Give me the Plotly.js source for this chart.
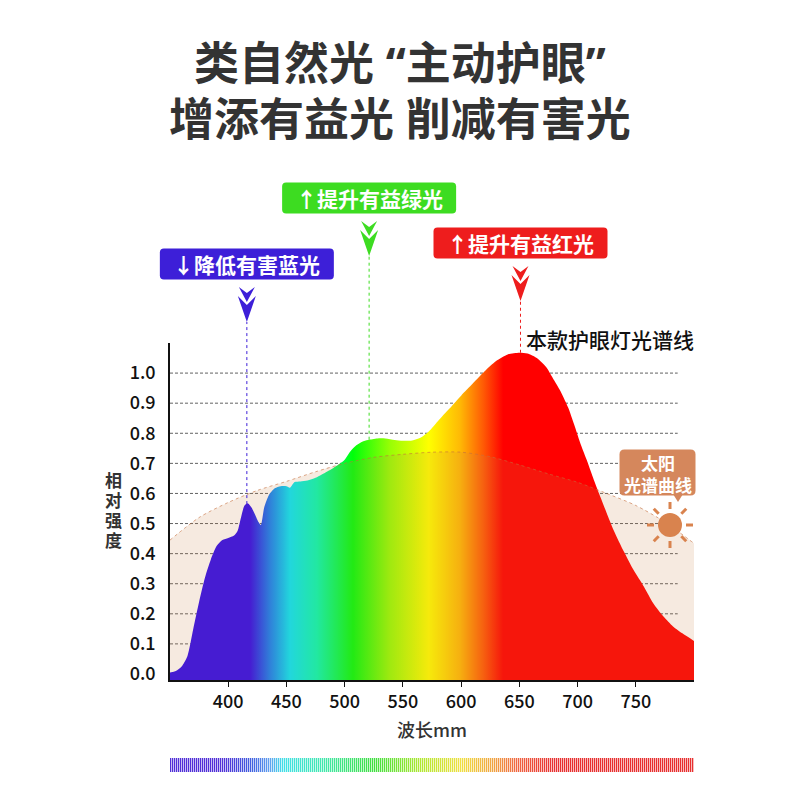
<!DOCTYPE html>
<html>
<head>
<meta charset="utf-8">
<script src="https://cdn.plot.ly/plotly-3.0.1.min.js"></script>
<style>
  html, body { margin: 0; padding: 0; background: #fff; }
  #chart { width: 800px; height: 800px; }
</style>
</head>
<body>
<div id="chart"></div>
<script>
// axes
const X_RANGE = [350, 800];
const Y_RANGE = [-0.02, 1.1];
const X_TICKS = [400, 450, 500, 550, 600, 650, 700, 750];
const Y_LABELS = [0, 0.1, 0.2, 0.3, 0.4, 0.5, 0.6, 0.7, 0.8, 0.9, 1.0];
const GRID_VALUES = [0.1, 0.2, 0.3, 0.4, 0.5, 0.6, 0.7, 0.8, 0.9, 1.0];

// lamp spectrum
const lampWl = [350,355,360,365,370,375,380,385,390,395,400,405,408,411,414,417,420,423,426,428,
  431,435,440,445,450,453,457,462,468,475,480,485,490,495,500,505,510,515,520,528,535,543,550,558,565,
  572,580,590,600,610,620,630,640,650,657,665,673,680,686,692,697,703,708,714,720,726,731,740,748,757,
  765,774,782,790,800];
const lampVal = [0.005,0.01,0.025,0.06,0.15,0.24,0.32,0.38,0.425,0.445,0.452,0.46,0.475,0.52,0.56,0.567,0.553,0.53,0.505,0.495,
  0.555,0.595,0.617,0.624,0.624,0.619,0.638,0.64,0.643,0.652,0.662,0.673,0.684,0.697,0.712,0.74,0.76,0.772,0.778,0.783,0.783,0.778,0.775,0.776,0.785,
  0.805,0.84,0.882,0.925,0.965,1.005,1.04,1.062,1.068,1.065,1.05,1.02,0.975,0.935,0.885,0.83,0.76,0.71,0.645,0.585,0.525,0.478,0.405,0.346,0.29,
  0.235,0.19,0.158,0.135,0.11];

// sunlight spectrum
const sunWl = [350,375,400,425,450,475,500,525,550,575,600,625,650,675,700,725,750,775,800];
const sunVal = [0.445,0.52,0.57,0.61,0.64,0.672,0.70,0.72,0.73,0.737,0.737,0.722,0.695,0.665,0.637,0.60,0.56,0.505,0.434];

// callouts
const markWl = [416, 521, 651];
const markText = ["↓降低有害蓝光", "↑提升有益绿光", "↑提升有益红光"];
const markColor = ["#3d1fd8", "#3ddc21", "#ee1d1d"];

// colours along the wavelength
const LAMP_SCALE = [[0,"#2c08ee"],[0.153,"#2c08ee"],[0.191,"#1180f7"],[0.229,"#00e8fb"],[0.28,"#00fdb5"],
  [0.349,"#00ff0a"],[0.42,"#98fe05"],[0.494,"#ffff00"],[0.553,"#ffba05"],[0.598,"#ff5a05"],[0.636,"#ff0000"],[1,"#ff0000"]];
const STRIPE_SCALE = [[0,"#5030d8"],[0.1,"#5030d8"],[0.156,"#4060e0"],[0.19,"#60a0f0"],[0.216,"#40e0e8"],[0.29,"#40e8b0"],
  [0.39,"#40e040"],[0.478,"#b0e830"],[0.556,"#f0e040"],[0.62,"#f0a040"],[0.667,"#f06040"],[0.733,"#e83030"],[1,"#e83030"]];

// page geometry (px)
const W = 800, H = 800, ML = 170, MR = 106, MT = 343, MB = 28;
const plotW = W - ML - MR, plotH = H - MT - MB;
const px2x = p => (p - ML) / plotW;
const py2y = p => (H - MB - p) / plotH;
const mainDomain = [py2y(680), 1];
const wl2x = v => (v - X_RANGE[0]) / (X_RANGE[1] - X_RANGE[0]);
const val2y = v => mainDomain[0] + (v - Y_RANGE[0]) / (Y_RANGE[1] - Y_RANGE[0]) * (1 - mainDomain[0]);

function lampAt(w) {
  for (let i = 1; i < lampWl.length; i++) {
    if (lampWl[i] >= w) {
      const t = (w - lampWl[i-1]) / (lampWl[i] - lampWl[i-1]);
      return lampVal[i-1] + t * (lampVal[i] - lampVal[i-1]);
    }
  }
  return lampVal[lampVal.length - 1];
}

function roundRect(w, h, r) {
  const x0 = -w/2, x1 = w/2, y0 = -h/2, y1 = h/2;
  return `M${x0+r},${y0} L${x1-r},${y0} Q${x1},${y0} ${x1},${y0+r} L${x1},${y1-r} Q${x1},${y1} ${x1-r},${y1} ` +
    `L${x0+r},${y1} Q${x0},${y1} ${x0},${y1-r} L${x0},${y0+r} Q${x0},${y0} ${x0+r},${y0} Z`;
}

const FONT = "Noto Sans CJK SC, Noto Sans, sans-serif";
const baseline = arr => arr.map(() => Y_RANGE[0]);

// spectrum stripe bar under the axis
const STRIPES = 262;
const stripeStep = (X_RANGE[1] - X_RANGE[0]) / STRIPES;
const stripeDark = Array.from({length: STRIPES}, (_, i) => X_RANGE[0] + (i + 0.25) * stripeStep);
const stripeLight = stripeDark.map(v => v + stripeStep / 2);

const traces = [
  { x: lampWl, y: baseline(lampWl), mode: "lines", line: { width: 0 }, hoverinfo: "skip" },
  {
    x: lampWl, y: lampVal, mode: "lines", fill: "tonexty",
    line: { width: 0, shape: "spline", smoothing: 0.7 },
    fillcolor: "#ff0000",
    fillgradient: { type: "horizontal", colorscale: LAMP_SCALE, start: X_RANGE[0], stop: X_RANGE[1] },
    hoverinfo: "skip",
  },
  { x: sunWl, y: baseline(sunWl), mode: "lines", line: { width: 0 }, hoverinfo: "skip" },
  {
    x: sunWl, y: sunVal, mode: "lines", fill: "tonexty",
    fillcolor: "rgba(200,128,72,0.17)",
    line: { color: "rgba(196,110,60,0.6)", width: 1, dash: "dot", shape: "spline", smoothing: 0.8 },
    hoverinfo: "skip",
  },
  {
    type: "bar", x: stripeDark, y: stripeDark.map(() => 1), width: stripeStep / 2,
    xaxis: "x2", yaxis: "y2",
    marker: { color: stripeDark, colorscale: STRIPE_SCALE, cmin: X_RANGE[0], cmax: X_RANGE[1], line: { width: 0 } },
    hoverinfo: "skip",
  },
  {
    type: "bar", x: stripeLight, y: stripeLight.map(() => 1), width: stripeStep / 2,
    xaxis: "x2", yaxis: "y2", opacity: 0.3,
    marker: { color: stripeLight, colorscale: STRIPE_SCALE, cmin: X_RANGE[0], cmax: X_RANGE[1], line: { width: 0 } },
    hoverinfo: "skip",
  },
];

const shapes = [];
const annotations = [];

// dashed grid, stops short of the right edge
GRID_VALUES.forEach(v => shapes.push({
  type: "line", xref: "x", yref: "y", x0: X_RANGE[0], x1: 786, y0: v, y1: v,
  line: { color: "#3a3a3a", width: 0.8, dash: "3px,2px" }, layer: "below",
}));

// callout boxes, arrows and guide lines
const boxPx = [264, 198, 243];
const tipPx = [322, 256, 301];
const ARROW = "M0,0 L-9,26 L0,17 L9,26 Z M0,20 L-8,35 L0,29 L8,35 Z";
markWl.forEach((w, i) => {
  shapes.push({
    type: "line", xref: "paper", yref: "paper",
    x0: wl2x(w), x1: wl2x(w), y0: val2y(lampAt(w)), y1: py2y(tipPx[i]),
    line: { color: markColor[i], width: 1, dash: "dot" },
  });
  shapes.push({
    type: "path", xref: "paper", yref: "paper", xsizemode: "pixel", ysizemode: "pixel",
    xanchor: wl2x(w), yanchor: py2y(tipPx[i]), path: ARROW,
    fillcolor: markColor[i], line: { width: 0 },
  });
  shapes.push({
    type: "path", xref: "paper", yref: "paper", xsizemode: "pixel", ysizemode: "pixel",
    xanchor: wl2x(w), yanchor: py2y(boxPx[i]), path: roundRect(174, 31, 4),
    fillcolor: markColor[i], line: { width: 0 },
  });
  annotations.push({
    xref: "paper", yref: "paper", x: wl2x(w), y: py2y(boxPx[i]), showarrow: false,
    text: markText[i], font: { family: FONT, size: 21, color: "#fff", weight: 700 },
    xanchor: "center", yanchor: "middle",
  });
});

// sun label and icon
const SUN_C = "#d9834e";
shapes.push({
  type: "path", xref: "paper", yref: "paper", xsizemode: "pixel", ysizemode: "pixel",
  xanchor: px2x(657.5), yanchor: py2y(472.5), path: roundRect(76, 46, 5),
  fillcolor: "#d5875c", line: { width: 0 },
});
shapes.push({
  type: "path", xref: "paper", yref: "paper", xsizemode: "pixel", ysizemode: "pixel",
  xanchor: px2x(678), yanchor: py2y(495), path: "M-5,1 L5,1 L0,-7 Z",
  fillcolor: "#d5875c", line: { width: 0 },
});
shapes.push({
  type: "circle", xref: "paper", yref: "paper", xsizemode: "pixel", ysizemode: "pixel",
  xanchor: px2x(670), yanchor: py2y(525), x0: -12, x1: 12, y0: -12, y1: 12,
  fillcolor: SUN_C, line: { width: 0 },
});
for (let k = 0; k < 8; k++) {
  const a = k * Math.PI / 4;
  shapes.push({
    type: "line", xref: "paper", yref: "paper", xsizemode: "pixel", ysizemode: "pixel",
    xanchor: px2x(670), yanchor: py2y(525),
    x0: 16 * Math.cos(a), y0: 16 * Math.sin(a), x1: 23 * Math.cos(a), y1: 23 * Math.sin(a),
    line: { color: SUN_C, width: 3 },
  });
}
annotations.push({
  xref: "paper", yref: "paper", x: px2x(657.5), y: py2y(473), showarrow: false,
  text: "太阳<br>光谱曲线", font: { family: FONT, size: 17, color: "#fff", weight: 700 },
  xanchor: "center", yanchor: "middle",
});

// lamp curve label
annotations.push({
  xref: "paper", yref: "paper", x: wl2x(markWl[2]), y: py2y(339), xshift: 4, showarrow: false,
  text: "本款护眼灯光谱线", font: { family: FONT, size: 21, color: "#111", weight: 500 },
  xanchor: "left", yanchor: "middle",
});

// headline
annotations.push({
  xref: "paper", yref: "paper", x: px2x(400), y: py2y(63), showarrow: false,
  text: "类自然光 “主动护眼”", font: { family: "Noto Sans, Noto Sans CJK SC, sans-serif", size: 45, color: "#333", weight: 700 },
  xanchor: "center", yanchor: "middle",
});
annotations.push({
  xref: "paper", yref: "paper", x: px2x(400), y: py2y(118), showarrow: false,
  text: "增添有益光 削减有害光", font: { family: "Noto Sans, Noto Sans CJK SC, sans-serif", size: 45, color: "#333", weight: 700 },
  xanchor: "center", yanchor: "middle",
});

// y title, one character per row
const yTitleChars = ["相", "对", "强", "度"];
const yTitleRowPx = [479, 499, 519, 539];
yTitleChars.forEach((c, i) => annotations.push({
  xref: "paper", yref: "paper", x: px2x(113), y: py2y(yTitleRowPx[i]), showarrow: false,
  text: c, font: { family: FONT, size: 17, color: "#333", weight: 700 },
  xanchor: "center", yanchor: "middle", height: 19,
}));
annotations.push({
  xref: "paper", yref: "paper", x: 0.5, y: py2y(729), showarrow: false,
  text: "波长mm", font: { family: FONT, size: 18, color: "#333", weight: 500 },
  xanchor: "center", yanchor: "middle",
});

const layout = {
  width: W, height: H,
  margin: { l: ML, r: MR, t: MT, b: MB },
  paper_bgcolor: "#fff",
  plot_bgcolor: "rgba(0,0,0,0)",
  showlegend: false,
  barmode: "overlay",
  font: { family: FONT, color: "#111" },
  xaxis: {
    range: X_RANGE, domain: [0, 1], anchor: "y",
    tickvals: X_TICKS, ticks: "outside", ticklen: 5, tickwidth: 1, tickcolor: "#111",
    showline: true, linecolor: "#111", linewidth: 1.5,
    showgrid: false, zeroline: false,
    tickfont: { family: FONT, size: 18, color: "#111", weight: 500 },
  },
  yaxis: {
    range: Y_RANGE, domain: mainDomain, anchor: "x",
    tickvals: Y_LABELS, ticktext: Y_LABELS.map(v => v.toFixed(1)), ticks: "",
    ticklabelstandoff: 9,
    showline: true, linecolor: "#111", linewidth: 1.5,
    showgrid: false, zeroline: false,
    tickfont: { family: FONT, size: 18, color: "#111", weight: 500 },
  },
  xaxis2: { range: X_RANGE, domain: [0, 1], anchor: "y2", visible: false },
  yaxis2: { range: [0, 1], domain: [0, py2y(758)], anchor: "x2", visible: false },
  shapes: shapes,
  annotations: annotations,
};

Plotly.newPlot("chart", traces, layout, { displayModeBar: false, responsive: false });
</script>
</body>
</html>
